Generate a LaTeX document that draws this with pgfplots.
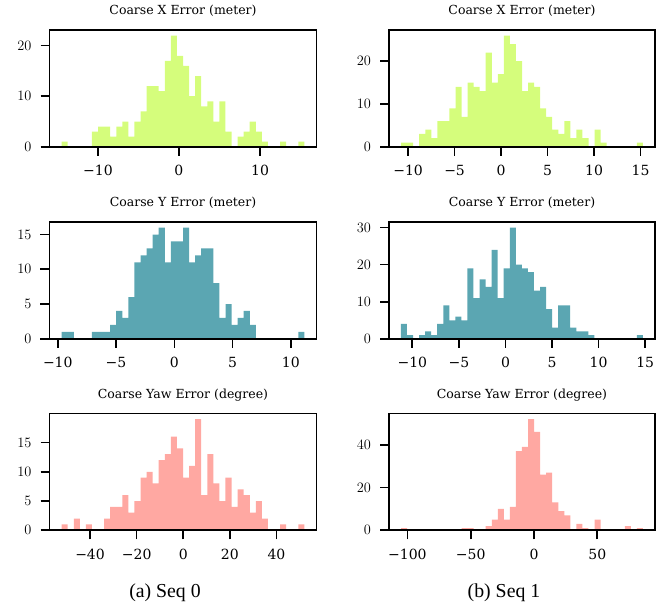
\documentclass[border=0pt]{standalone}
\usepackage{pgfplots}
\pgfplotsset{compat=1.18}
\usepackage{fontspec}
\setmainfont{DejaVu Serif}
\newfontfamily\capfont{Liberation Serif}
\definecolor{limec}{RGB}{213,253,124}
\definecolor{tealc}{RGB}{91,166,178}
\definecolor{salmonc}{RGB}{255,168,162}
\pgfplotsset{
  myax/.style={
    scale only axis, width=267bp, height=116.8bp,
    anchor=north west,
    axis on top,
    axis line style={line width=1.6bp},
    every tick/.style={black, line width=1.6bp},
    major tick length=9bp,
    tick align=outside,
    xtick pos=bottom, ytick pos=left,
    ymin=0,
    ticklabel style={font=\fontsize{14bp}{16bp}\selectfont},
    xticklabel style={anchor=base, inner sep=0pt, yshift=-20bp},
    yticklabel style={anchor=east, inner sep=0pt, xshift=-9bp},
    every axis title/.style={at={(0.5,1)}, anchor=base, yshift=15bp, inner sep=0pt, font=\fontsize{12.5bp}{15bp}\selectfont},
  },
  hist/.style={const plot, draw=none, fill=#1},
}
\begin{document}
\begin{tikzpicture}
\useasboundingbox (0,0) rectangle (670bp,607bp);

% Panel 1: Seq 0, X
\begin{axis}[myax, at={(49.5bp,577bp)},
  xmin=-15.97, xmax=16.97, ymax=23.1,
  xtick={-10,0,10}, xticklabels={−10,0,10},
  ytick={0,10,20},
  title={Coarse X Error (meter)}]
\addplot[hist=limec] coordinates {
(-14.470,1)(-13.722,0)(-12.973,0)(-12.225,0)(-11.476,0)(-10.728,3)(-9.979,4)(-9.231,4)(-8.482,2)(-7.734,4)
(-6.985,5)(-6.237,2)(-5.488,5)(-4.740,7)(-3.991,12)(-3.243,12)(-2.494,11)(-1.746,17)(-0.997,22)(-0.249,18)
(0.500,16)(1.249,10)(1.997,14)(2.746,8)(3.494,9)(4.243,5)(4.991,9)(5.740,3)(6.488,0)(7.237,2)
(7.985,3)(8.734,5)(9.482,3)(10.231,1)(10.979,0)(11.728,0)(12.476,1)(13.225,0)(13.973,0)(14.722,1)
(15.470,1)} \closedcycle;
\end{axis}

% Panel 2: Seq 1, X
\begin{axis}[myax, at={(389bp,577bp)}, width=266bp,
  xmin=-12.05, xmax=16.55, ymax=27.3,
  xtick={-10,-5,0,5,10,15}, xticklabels={−10,−5,0,5,10,15},
  ytick={0,10,20},
  title={Coarse X Error (meter)}]
\addplot[hist=limec] coordinates {
(-10.75,1)(-10.10,1)(-9.45,0)(-8.80,3)(-8.15,4)(-7.50,2)(-6.85,6)(-6.20,6)(-5.55,9)(-4.90,14)
(-4.25,7)(-3.60,15)(-2.95,14)(-2.30,13)(-1.65,22)(-1.00,15)(-0.35,17)(0.30,26)(0.95,24)(1.60,20)
(2.25,13)(2.90,15)(3.55,14)(4.20,9)(4.85,7)(5.50,4)(6.15,3)(6.80,6)(7.45,2)(8.10,4)
(8.75,2)(9.40,0)(10.05,4)(10.70,1)(11.35,0)(12.00,0)(12.65,0)(13.30,0)(13.95,0)(14.60,1)
(15.25,1)} \closedcycle;
\end{axis}

% Panel 3: Seq 0, Y
\begin{axis}[myax, at={(49.5bp,385bp)},
  xmin=-10.71, xmax=12.2, ymax=16.8,
  xtick={-10,-5,0,5,10}, xticklabels={−10,−5,0,5,10},
  ytick={0,5,10,15},
  title={Coarse Y Error (meter)}]
\addplot[hist=tealc] coordinates {
(-9.670,1)(-9.149,1)(-8.628,0)(-8.108,0)(-7.587,0)(-7.066,1)(-6.545,1)(-6.024,1)(-5.504,2)(-4.983,4)
(-4.462,3)(-3.941,6)(-3.420,11)(-2.900,12)(-2.379,13)(-1.858,15)(-1.337,16)(-0.816,11)(-0.296,14)(0.225,14)
(0.746,16)(1.267,11)(1.788,12)(2.308,13)(2.829,13)(3.350,8)(3.871,3)(4.392,5)(4.912,2)(5.433,3)
(5.954,4)(6.475,2)(6.996,0)(7.516,0)(8.037,0)(8.558,0)(9.079,0)(9.600,0)(10.120,0)(10.641,1)
(11.162,1)} \closedcycle;
\end{axis}

% Panel 4: Seq 1, Y
\begin{axis}[myax, at={(389bp,385bp)}, width=266bp,
  xmin=-12.5, xmax=16.05, ymax=31.5,
  xtick={-10,-5,0,5,10,15}, xticklabels={−10,−5,0,5,10,15},
  ytick={0,10,20,30},
  title={Coarse Y Error (meter)}]
\addplot[hist=tealc] coordinates {
(-11.220,4)(-10.571,1)(-9.922,0)(-9.273,1)(-8.624,2)(-7.975,1)(-7.326,4)(-6.677,9)(-6.028,5)(-5.379,6)
(-4.730,5)(-4.081,19)(-3.432,11)(-2.783,16)(-2.134,14)(-1.485,24)(-0.836,11)(-0.187,19)(0.462,30)(1.111,20)
(1.760,19)(2.409,18)(3.058,13)(3.707,14)(4.356,8)(5.005,3)(5.654,9)(6.303,9)(6.952,3)(7.601,2)
(8.250,2)(8.899,1)(9.548,0)(10.197,0)(10.846,0)(11.495,0)(12.144,0)(12.793,0)(13.442,0)(14.091,1)
(14.740,1)} \closedcycle;
\end{axis}

% Panel 5: Seq 0, Yaw
\begin{axis}[myax, at={(49.5bp,193.5bp)},
  xmin=-57.4, xmax=57.2, ymax=19.95,
  xtick={-40,-20,0,20,40}, xticklabels={−40,−20,0,20,40},
  ytick={0,5,10,15},
  title={Coarse Yaw Error (degree)}]
\addplot[hist=salmonc] coordinates {
(-52.200,1)(-49.595,0)(-46.990,2)(-44.385,0)(-41.780,1)(-39.175,0)(-36.570,0)(-33.965,2)(-31.360,4)(-28.755,4)
(-26.150,6)(-23.545,3)(-20.940,5)(-18.335,9)(-15.730,10)(-13.125,8)(-10.520,12)(-7.915,13)(-5.310,16)(-2.705,14)
(-0.100,9)(2.505,11)(5.110,19)(7.715,6)(10.320,13)(12.925,8)(15.530,5)(18.135,9)(20.740,4)(23.345,7)
(25.950,6)(28.555,3)(31.160,5)(33.765,2)(36.370,0)(38.975,0)(41.580,1)(44.185,0)(46.790,0)(49.395,1)
(52.000,1)} \closedcycle;
\end{axis}

% Panel 6: Seq 1, Yaw
\begin{axis}[myax, at={(389bp,193.5bp)}, width=266bp,
  xmin=-114.55, xmax=95.6, ymax=54.6,
  xtick={-100,-50,0,50}, xticklabels={−100,−50,0,50},
  ytick={0,20,40},
  title={Coarse Yaw Error (degree)}]
\addplot[hist=salmonc] coordinates {
(-105.000,1)(-100.224,0)(-95.448,0)(-90.672,0)(-85.896,0)(-81.120,0)(-76.344,0)(-71.568,0)(-66.792,0)(-62.016,0)
(-57.240,1)(-52.464,1)(-47.688,0)(-42.912,0)(-38.136,2)(-33.360,5)(-28.584,10)(-23.808,5)(-19.032,11)(-14.256,37)
(-9.480,39)(-4.704,52)(0.072,46)(4.848,26)(9.624,27)(14.400,13)(19.176,9)(23.952,7)(28.728,0)(33.504,3)
(38.280,1)(43.056,0)(47.832,5)(52.608,0)(57.384,0)(62.160,0)(66.936,0)(71.712,2)(76.488,0)(81.264,1)
(86.040,1)} \closedcycle;
\end{axis}

\node[font=\capfont\fontsize{19.8bp}{22bp}\selectfont, anchor=base, inner sep=0pt] at (165bp,10bp) {(a) Seq 0};
\node[font=\capfont\fontsize{19.8bp}{22bp}\selectfont, anchor=base, inner sep=0pt] at (504bp,10bp) {(b) Seq 1};
\end{tikzpicture}
\end{document}
